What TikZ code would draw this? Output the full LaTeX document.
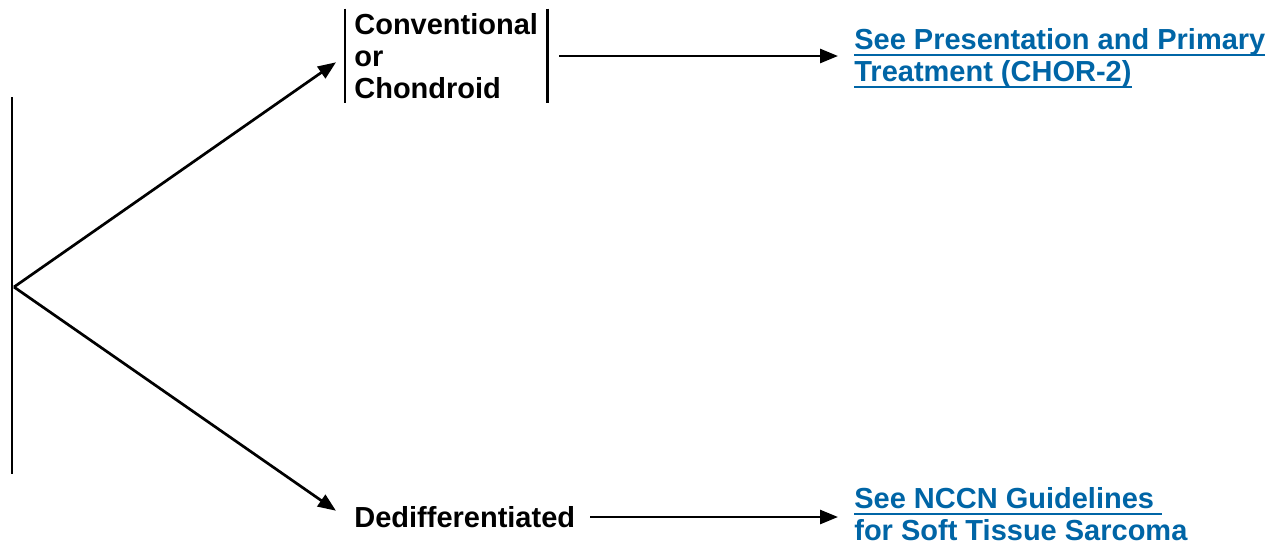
\documentclass[tikz,border=0pt]{standalone}
\usepackage{fontspec}
\setmainfont{Liberation Sans}
\usetikzlibrary{arrows.meta}
\definecolor{linkblue}{RGB}{0,101,166}
% underlined link text: rule sits a fixed distance below the baseline
\newcommand\linktext[1]{\setbox0\hbox{#1}\rlap{\rule[-0.22em]{\wd0}{0.075em}}\box0}
\begin{document}
\begin{tikzpicture}[x=1pt,y=-1pt,
  line width=2.7pt,
  txt/.style={font=\fontsize{29}{32}\selectfont\bfseries, align=left, inner ysep=0pt},
  link/.style={txt, text=linkblue, inner xsep=0pt},
  flow/.style={-{Triangle[length=18pt,width=14pt]}},
]
\useasboundingbox (0,0) rectangle (1273,542);

% left bracket and split point
\coordinate (top) at (12,97);
\coordinate (bot) at (12,474);
\coordinate (split) at (14,287);
\draw (top) -- (bot);

% branch boxes
\node[txt, anchor=west, inner xsep=8pt, minimum height=90pt] (conv) at (345,56)
  {Conventional\\or\\Chondroid};
\draw ([yshift=1pt]conv.north west) -- ([yshift=-1pt]conv.south west);
\draw ([yshift=1pt]conv.north east) -- ([yshift=-1pt]conv.south east);

\node[txt, anchor=west, inner xsep=8pt] (dedif) at (345,517) {Dedifferentiated};

% targets
\node[link, anchor=west] (chor) at (853,58)
  {\linktext{See Presentation and Primary}\\\linktext{Treatment (CHOR-2)}};
\node[link, anchor=west] (sts) at (853,514)
  {\linktext{See NCCN Guidelines\ }\\for Soft Tissue Sarcoma};

% connectors
\draw[flow, shorten >=11pt] (split) -- (conv.west);
\draw[flow, shorten >=11pt] (split) -- (dedif.west);
\draw[flow, shorten <=12pt, shorten >=15pt] (conv.east) -- (conv.east -| chor.west);
\draw[flow, shorten <=6pt, shorten >=15pt] (dedif.east) -- (dedif.east -| chor.west);
\end{tikzpicture}
\end{document}
